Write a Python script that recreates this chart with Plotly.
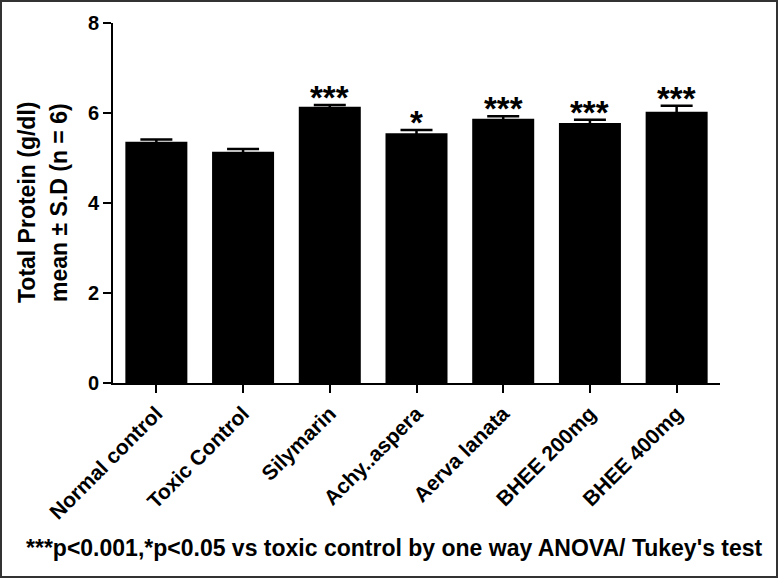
import plotly.graph_objects as go

groups = ["Normal control", "Toxic Control", "Silymarin", "Achy..aspera",
          "Aerva lanata", "BHEE 200mg", "BHEE 400mg"]
means = [5.36, 5.14, 6.14, 5.55, 5.87, 5.78, 6.03]
sds = [0.05, 0.06, 0.04, 0.07, 0.06, 0.07, 0.13]
stars = ["", "", "***", "*", "***", "***", "***"]
y_ticks = [0, 2, 4, 6, 8]

W, H = 778, 578
L, R, T, B = 113, 58, 23, 195
pw, ph = W - L - R, H - T - B
font = "Liberation Sans"

fig = go.Figure()
fig.add_trace(go.Bar(
    x=groups, y=means, width=0.715,
    marker=dict(color="black", line=dict(width=0)),
    error_y=dict(type="data", array=sds, color="black", thickness=2.5, width=16),
))

for g, m, s, st in zip(groups, means, sds, stars):
    if st:
        fig.add_annotation(x=g, y=m + s, text=f"<b>{st}</b>", showarrow=False,
                           yanchor="bottom", yshift=-13,
                           font=dict(size=33, family=font, color="black"))

fig.add_annotation(xref="paper", yref="paper", x=-(L - 27) / pw, y=0.5,
                   text="<b>Total Protein (g/dl)</b>", textangle=-90, showarrow=False,
                   xanchor="center", yanchor="middle", font=dict(size=23, family=font, color="black"))
fig.add_annotation(xref="paper", yref="paper", x=-(L - 59) / pw, y=0.5,
                   text="<b>mean ± S.D (n = 6)</b>", textangle=-90, showarrow=False,
                   xanchor="center", yanchor="middle", font=dict(size=23, family=font, color="black"))
fig.add_annotation(xref="paper", yref="paper", x=(394 - L) / pw, y=-(548 - (H - B)) / ph,
                   text="<b>***p<0.001,*p<0.05 vs toxic control by one way ANOVA/ Tukey's test</b>",
                   showarrow=False, xanchor="center", yanchor="middle",
                   font=dict(size=23, family=font, color="black"))

# outer frame
fig.add_shape(type="rect", xref="paper", yref="paper",
              x0=-(L - 1) / pw, x1=1 + (R - 1) / pw,
              y0=-(B - 1) / ph, y1=1 + (T - 1) / ph,
              line=dict(color="#333333", width=2))

fig.update_layout(
    width=W, height=H, margin=dict(l=L, r=R, t=T, b=B),
    plot_bgcolor="white", paper_bgcolor="white", showlegend=False,
    font=dict(family=font, color="black"),
    xaxis=dict(range=[-0.5, 6.5], showline=True, linecolor="black", linewidth=2,
               ticks="outside", ticklen=8, tickwidth=2, tickcolor="black",
               tickangle=-45, tickfont=dict(size=21, family=font),
               tickvals=groups, ticktext=[f"<b>{g}</b>" for g in groups], showgrid=False),
    yaxis=dict(range=[0, 8], showline=True, linecolor="black", linewidth=2,
               ticks="outside", ticklen=8, tickwidth=2, tickcolor="black",
               tickvals=y_ticks, ticktext=[f"<b>{v}</b>" for v in y_ticks],
               tickfont=dict(size=20, family=font), showgrid=False, zeroline=False),
)

fig.write_html("out.html", config={"displayModeBar": False},
               post_script="document.body.style.margin='0';")
